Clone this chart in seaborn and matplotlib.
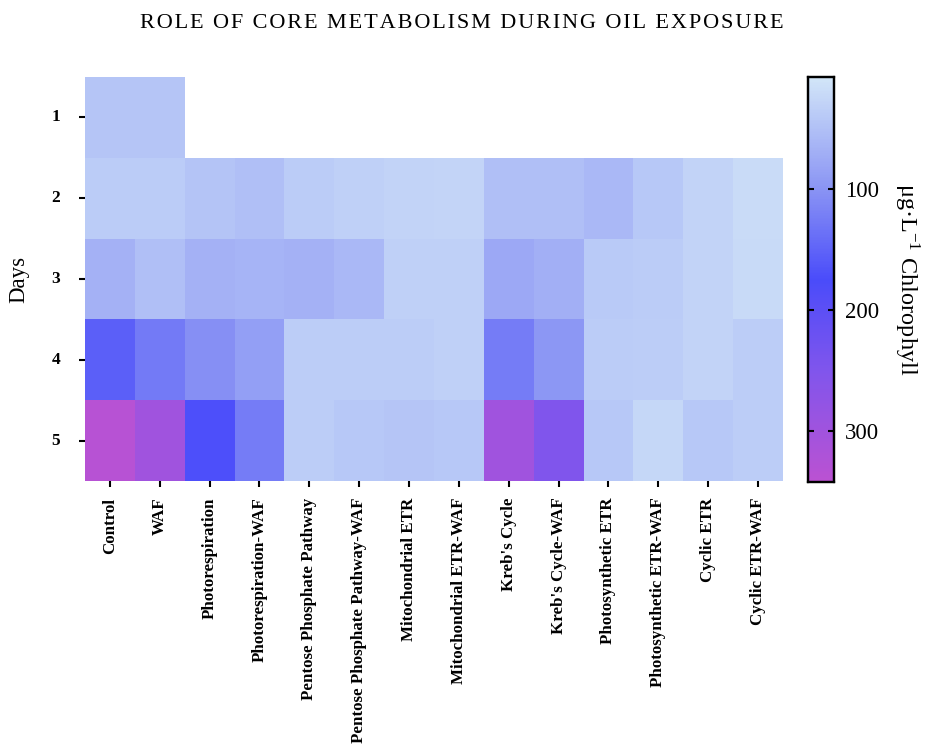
import matplotlib
matplotlib.use('Agg')
import matplotlib.pyplot as plt
from matplotlib.colors import LinearSegmentedColormap
import numpy as np
import pandas as pd
import seaborn as sns

pathways = ['Control', 'WAF', 'Photorespiration', 'Photorespiration-WAF',
            'Pentose Phosphate Pathway', 'Pentose Phosphate Pathway-WAF',
            'Mitochondrial ETR', 'Mitochondrial ETR-WAF', "Kreb's Cycle",
            "Kreb's Cycle-WAF", 'Photosynthetic ETR', 'Photosynthetic ETR-WAF',
            'Cyclic ETR', 'Cyclic ETR-WAF']
days = ['1', '2', '3', '4', '5']

# chlorophyll (ug/L), one list per day
day1 = [45, 45] + [np.nan] * 12
day2 = [38, 38, 47, 52, 38, 33, 30, 28, 52, 52, 60, 43, 30, 20]
day3 = [68, 52, 68, 65, 68, 60, 33, 33, 78, 70, 40, 38, 30, 22]
day4 = [155, 128, 105, 88, 36, 36, 36, 33, 125, 97, 38, 36, 30, 36]
day5 = [335, 300, 172, 125, 36, 43, 45, 43, 300, 250, 43, 26, 42, 36]

df = pd.DataFrame([day1, day2, day3, day4, day5], index=days, columns=pathways)

vmin, vmax = 8, 342
stops = [(8, '#d2e6f8'), (100, '#8a94f4'), (175, '#4a4cfa'),
         (250, '#8055ec'), (342, '#bb52d2')]
cmap = LinearSegmentedColormap.from_list(
    'chl', [((v - vmin) / (vmax - vmin), c) for v, c in stops])

plt.rcParams['font.family'] = ['Liberation Serif', 'DejaVu Serif']
plt.rcParams['mathtext.fontset'] = 'stix'

fig = plt.figure(figsize=(9.3, 7.47), dpi=100)
ax = fig.add_axes([0.0914, 0.3561, 0.7505, 0.5408])
cax = fig.add_axes([0.8688, 0.3548, 0.028, 0.5421])

sns.heatmap(df, ax=ax, cbar_ax=cax, cmap=cmap, vmin=vmin, vmax=vmax)

ax.set_xticklabels(pathways, rotation=90, fontsize=12.2, fontweight='bold')
ax.set_yticklabels(days, rotation=0, fontsize=12.5, fontweight='bold')
ax.tick_params(axis='both', length=4, width=1.5, color='black', pad=14)
ax.tick_params(axis='x', pad=8)
ax.set_xlabel('')
ax.set_ylabel('Days', fontsize=16.5, labelpad=16)

cax.invert_yaxis()
cax.set_yticks([100, 200, 300])
cax.tick_params(axis='y', labelsize=16.5, direction='in', left=True, right=True,
                length=4, width=1.5, pad=8)
for s in cax.spines.values():
    s.set_visible(True)
    s.set_linewidth(1.6)
    s.set_color('black')
cax.set_ylabel(r'μg·L$^{\mathregular{-1}}$ Chlorophyll', fontsize=17.5,
               rotation=270, labelpad=30)

# letter-spaced title
title = '\u200a'.join('ROLE OF CORE METABOLISM DURING OIL EXPOSURE')
fig.text(0.497, 0.968, title, ha='center', va='center', fontsize=16)

fig.savefig('out.png', dpi=100)
